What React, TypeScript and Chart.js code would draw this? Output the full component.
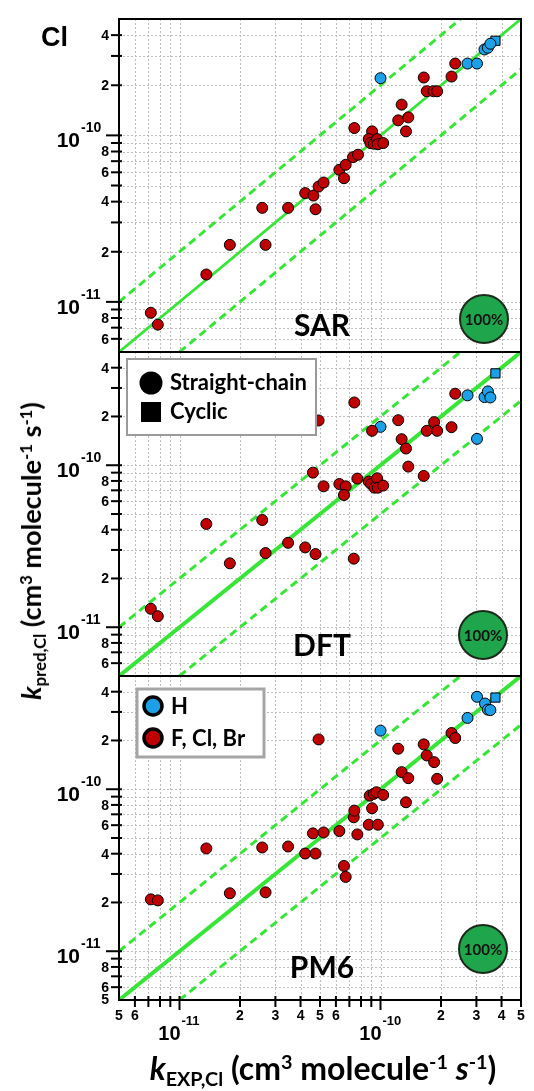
import React, { useEffect, useRef } from 'react';
import Chart from 'chart.js/auto';

// ---------------- data ----------------
const AXIS_MIN = 5e-12;
const AXIS_MAX = 5e-10;

// SAR panel
const SAR_RED_X = [7.2e-12, 7.8e-12, 1.36e-11, 1.78e-11, 2.68e-11, 2.58e-11, 3.47e-11, 4.22e-11, 4.64e-11, 4.75e-11, 4.92e-11, 5.21e-11, 6.24e-11, 6.71e-11, 6.58e-11, 7.30e-11, 7.73e-11, 7.41e-11, 9.08e-11, 8.74e-11, 8.91e-11, 9.26e-11, 9.62e-11, 9.70e-11, 1.031e-10, 1.225e-10, 1.274e-10, 1.375e-10, 1.339e-10, 1.641e-10, 1.698e-10, 1.834e-10, 1.913e-10, 2.256e-10, 2.354e-10];
const SAR_RED_Y = [8.6e-12, 7.3e-12, 1.46e-11, 2.2e-11, 2.2e-11, 3.67e-11, 3.67e-11, 4.5e-11, 4.35e-11, 3.6e-11, 4.93e-11, 5.21e-11, 6.21e-11, 6.66e-11, 5.53e-11, 7.40e-11, 7.65e-11, 1.107e-10, 1.057e-10, 9.5e-11, 8.99e-11, 8.91e-11, 9.5e-11, 8.85e-11, 8.99e-11, 1.231e-10, 1.53e-10, 1.283e-10, 1.057e-10, 2.226e-10, 1.841e-10, 1.841e-10, 1.841e-10, 2.256e-10, 2.70e-10];
const SAR_BLUE_X = [1.0e-10, 2.71e-10, 3.02e-10, 3.29e-10, 3.42e-10, 3.52e-10];
const SAR_BLUE_Y = [2.205e-10, 2.70e-10, 2.70e-10, 3.28e-10, 3.36e-10, 3.55e-10];
const SAR_CYCLIC_X = [3.73e-10];
const SAR_CYCLIC_Y = [3.70e-10];

// DFT panel
const DFT_RED_X = [7.2e-12, 7.8e-12, 1.36e-11, 1.78e-11, 2.58e-11, 2.68e-11, 3.47e-11, 4.22e-11, 4.75e-11, 4.61e-11, 4.92e-11, 5.21e-11, 6.24e-11, 6.71e-11, 6.58e-11, 7.41e-11, 7.36e-11, 7.67e-11, 9.08e-11, 8.74e-11, 8.98e-11, 9.33e-11, 9.62e-11, 9.70e-11, 1.031e-10, 1.225e-10, 1.274e-10, 1.339e-10, 1.375e-10, 1.641e-10, 1.698e-10, 1.848e-10, 1.913e-10, 2.256e-10, 2.354e-10];
const DFT_RED_Y = [1.30e-11, 1.17e-11, 4.34e-11, 2.48e-11, 4.59e-11, 2.87e-11, 3.32e-11, 3.11e-11, 2.83e-11, 9.0e-11, 1.889e-10, 7.41e-11, 7.66e-11, 7.41e-11, 6.55e-11, 2.44e-10, 2.65e-11, 8.27e-11, 1.631e-10, 7.93e-11, 7.66e-11, 7.27e-11, 8.31e-11, 7.27e-11, 7.49e-11, 1.897e-10, 1.448e-10, 1.268e-10, 9.81e-11, 8.59e-11, 1.631e-10, 1.845e-10, 1.631e-10, 1.718e-10, 2.763e-10];
const DFT_BLUE_X = [1.0e-10, 2.71e-10, 3.02e-10, 3.29e-10, 3.42e-10, 3.52e-10];
const DFT_BLUE_Y = [1.726e-10, 2.70e-10, 1.455e-10, 2.634e-10, 2.855e-10, 2.62e-10];
const DFT_CYCLIC_X = [3.73e-10];
const DFT_CYCLIC_Y = [3.69e-10];

// PM6 panel
const PM6_RED_X = [7.2e-12, 7.8e-12, 1.36e-11, 1.78e-11, 2.58e-11, 2.68e-11, 3.47e-11, 4.22e-11, 4.75e-11, 4.61e-11, 4.92e-11, 5.21e-11, 6.24e-11, 6.58e-11, 6.71e-11, 7.36e-11, 7.41e-11, 7.67e-11, 9.08e-11, 8.84e-11, 8.74e-11, 9.26e-11, 9.55e-11, 9.70e-11, 1.031e-10, 1.225e-10, 1.274e-10, 1.375e-10, 1.339e-10, 1.641e-10, 1.698e-10, 1.848e-10, 1.913e-10, 2.256e-10, 2.354e-10];
const PM6_RED_Y = [2.09e-11, 2.06e-11, 4.31e-11, 2.28e-11, 4.37e-11, 2.31e-11, 4.43e-11, 4.01e-11, 4.01e-11, 5.34e-11, 2.03e-10, 5.41e-11, 5.52e-11, 3.36e-11, 2.875e-11, 6.71e-11, 7.38e-11, 5.26e-11, 7.63e-11, 9.13e-11, 6.04e-11, 9.36e-11, 9.58e-11, 6.04e-11, 9.22e-11, 1.778e-10, 1.275e-10, 1.17e-10, 8.31e-11, 1.892e-10, 1.617e-10, 1.47e-10, 1.159e-10, 2.223e-10, 2.071e-10];
const PM6_BLUE_X = [1.0e-10, 2.71e-10, 3.02e-10, 3.31e-10, 3.42e-10, 3.52e-10];
const PM6_BLUE_Y = [2.30e-10, 2.755e-10, 3.72e-10, 3.38e-10, 3.10e-10, 3.08e-10];
const PM6_CYCLIC_X = [3.73e-10];
const PM6_CYCLIC_Y = [3.68e-10];

// reference lines: 1:1, factor-of-2 bands
const ONE_TO_ONE_X = [5e-12, 5e-10];
const ONE_TO_ONE_Y = [5e-12, 5e-10];
const UPPER_X = [5e-12, 2.5e-10];
const UPPER_Y = [1e-11, 5e-10];
const LOWER_X = [1e-11, 5e-10];
const LOWER_Y = [5e-12, 2.5e-10];

// ticks
const GRID_VALUES = [6e-12, 7e-12, 8e-12, 9e-12, 1e-11, 2e-11, 3e-11, 4e-11, 5e-11, 6e-11, 7e-11, 8e-11, 9e-11, 1e-10, 2e-10, 3e-10, 4e-10];
const MAJOR_VALUES = [1e-11, 1e-10];
const MAJOR_EXPONENTS = ['-11', '-10'];
const Y_LABEL_VALUES = [4e-10, 2e-10, 8e-11, 6e-11, 4e-11, 2e-11, 8e-12, 6e-12];
const Y_LABEL_TEXTS = ['4', '2', '8', '6', '4', '2', '8', '6'];
const X_LABEL_VALUES = [5e-12, 6e-12, 2e-11, 3e-11, 4e-11, 5e-11, 6e-11, 2e-10, 3e-10, 4e-10, 5e-10];
const X_LABEL_TEXTS = ['5', '6', '2', '3', '4', '5', '6', '2', '3', '4', '5'];

const PANEL_NAMES = ['SAR', 'DFT', 'PM6'];
const BADGE_TEXT = '100%';

// ---------------- styles ----------------
const RED = '#C00000';
const BLUE = '#1CA0E8';
const GREEN = '#36E536';
const BADGE_GREEN = '#1FA64C';
const ARIAL = '"Liberation Sans", Arial, sans-serif';
const CAL = 'Lato, "Open Sans", sans-serif';

const PANELS = [
  { id: 'ySAR', name: PANEL_NAMES[0], redX: SAR_RED_X, redY: SAR_RED_Y, blueX: SAR_BLUE_X, blueY: SAR_BLUE_Y, cycX: SAR_CYCLIC_X, cycY: SAR_CYCLIC_Y, stackWeight: 333, solidWidth: 2.8, labelY: 326, badge: [484, 319] },
  { id: 'yDFT', name: PANEL_NAMES[1], redX: DFT_RED_X, redY: DFT_RED_Y, blueX: DFT_BLUE_X, blueY: DFT_BLUE_Y, cycX: DFT_CYCLIC_X, cycY: DFT_CYCLIC_Y, stackWeight: 324, solidWidth: 4, labelY: 646, badge: [483, 635] },
  { id: 'yPM6', name: PANEL_NAMES[2], redX: PM6_RED_X, redY: PM6_RED_Y, blueX: PM6_BLUE_X, blueY: PM6_BLUE_Y, cycX: PM6_CYCLIC_X, cycY: PM6_CYCLIC_Y, stackWeight: 324, solidWidth: 4, labelY: 968, badge: [483, 949] },
];

const pts = (xs: number[], ys: number[]) => xs.map((x, i) => ({ x, y: ys[i] }));

function line(ctx: CanvasRenderingContext2D, x1: number, y1: number, x2: number, y2: number) {
  ctx.beginPath();
  ctx.moveTo(x1, y1);
  ctx.lineTo(x2, y2);
  ctx.stroke();
}

const overlay = {
  id: 'overlay',
  beforeDatasetsDraw(chart: any) {
    const { ctx, chartArea, scales } = chart;
    const xs = scales.x;
    ctx.save();
    ctx.strokeStyle = '#bdbdbd';
    ctx.lineWidth = 1;
    ctx.setLineDash([2, 2]);
    for (const p of PANELS) {
      const ys = scales[p.id];
      const top = ys.getPixelForValue(AXIS_MAX);
      const bottom = ys.getPixelForValue(AXIS_MIN);
      for (const v of GRID_VALUES) {
        const x = Math.round(xs.getPixelForValue(v)) + 0.5;
        line(ctx, x, top, x, bottom);
        const y = Math.round(ys.getPixelForValue(v)) + 0.5;
        line(ctx, chartArea.left, y, chartArea.right, y);
      }
    }
    ctx.restore();
  },
  afterDatasetsDraw(chart: any) {
    const { ctx, chartArea, scales } = chart;
    const xs = scales.x;
    const left = chartArea.left;
    const right = chartArea.right;
    ctx.save();
    ctx.setLineDash([]);
    ctx.fillStyle = '#000';
    ctx.strokeStyle = '#000';

    PANELS.forEach((p, i) => {
      const ys = scales[p.id];
      const top = ys.getPixelForValue(AXIS_MAX);
      const bottom = ys.getPixelForValue(AXIS_MIN);

      // y tick marks
      ctx.lineWidth = 2;
      for (const v of GRID_VALUES) {
        const y = ys.getPixelForValue(v);
        const major = MAJOR_VALUES.includes(v);
        line(ctx, left - (major ? 13 : 8), y, left + 3, y);
      }
      // minor labels
      ctx.font = `bold 14px ${ARIAL}`;
      ctx.textAlign = 'right';
      ctx.textBaseline = 'middle';
      Y_LABEL_VALUES.forEach((v, k) => ctx.fillText(Y_LABEL_TEXTS[k], left - 10, ys.getPixelForValue(v) + 1));
      if (i === PANELS.length - 1) ctx.fillText(X_LABEL_TEXTS[0], left - 10, bottom);
      // major labels
      MAJOR_VALUES.forEach((v, k) => {
        const y = ys.getPixelForValue(v);
        ctx.textBaseline = 'alphabetic';
        ctx.textAlign = 'right';
        ctx.font = `bold 21px ${ARIAL}`;
        ctx.fillText('10', 80, y + 12);
        ctx.textAlign = 'left';
        ctx.font = `bold 14px ${ARIAL}`;
        ctx.fillText(MAJOR_EXPONENTS[k], 81, y - 3);
      });

      // panel frame
      ctx.lineWidth = 2;
      ctx.strokeRect(left, top, right - left, bottom - top);

      // panel name
      ctx.font = `bold 30px ${CAL}`;
      ctx.textAlign = 'center';
      ctx.textBaseline = 'middle';
      ctx.fillText(p.name, 322, p.labelY);

      // badge
      const [bx, by] = p.badge;
      ctx.beginPath();
      ctx.arc(bx, by, 24, 0, Math.PI * 2);
      ctx.fillStyle = BADGE_GREEN;
      ctx.fill();
      ctx.lineWidth = 2;
      ctx.strokeStyle = '#1b2a1b';
      ctx.stroke();
      ctx.fillStyle = '#111';
      ctx.font = `bold 15px ${CAL}`;
      ctx.fillText(BADGE_TEXT, bx, by + 1);
      ctx.fillStyle = '#000';
      ctx.strokeStyle = '#000';
    });

    // x axis ticks + labels
    const lastScale = scales[PANELS[PANELS.length - 1].id];
    const axisY = lastScale.getPixelForValue(AXIS_MIN);
    ctx.lineWidth = 2;
    for (const v of [...GRID_VALUES, AXIS_MAX]) {
      const x = xs.getPixelForValue(v);
      const major = MAJOR_VALUES.includes(v);
      line(ctx, x, axisY - 4, x, axisY + (major ? 10 : 7));
    }
    ctx.font = `bold 14px ${ARIAL}`;
    ctx.textAlign = 'center';
    ctx.textBaseline = 'alphabetic';
    X_LABEL_VALUES.forEach((v, k) => ctx.fillText(X_LABEL_TEXTS[k], xs.getPixelForValue(v), axisY + 20));
    MAJOR_VALUES.forEach((v, k) => {
      const x = xs.getPixelForValue(v);
      ctx.textAlign = 'right';
      ctx.font = `bold 20px ${ARIAL}`;
      ctx.fillText('10', x + 1, axisY + 40);
      ctx.textAlign = 'left';
      ctx.font = `bold 13px ${ARIAL}`;
      ctx.fillText(MAJOR_EXPONENTS[k], x + 2, axisY + 25);
    });

    // "Cl" label
    ctx.font = `bold 27px ${ARIAL}`;
    ctx.textAlign = 'left';
    ctx.fillText('Cl', 41, 46);

    // legend 1 (shape)
    ctx.lineWidth = 2;
    ctx.strokeStyle = '#9a9a9a';
    ctx.fillStyle = '#fff';
    ctx.fillRect(127, 359, 189, 76);
    ctx.strokeRect(127, 359, 189, 76);
    ctx.fillStyle = '#000';
    ctx.beginPath();
    ctx.arc(151, 383, 11.5, 0, Math.PI * 2);
    ctx.fill();
    ctx.fillRect(141, 402, 20, 20);
    ctx.font = `bold 22px ${CAL}`;
    ctx.textBaseline = 'middle';
    ctx.fillText('Straight-chain', 170, 383);
    ctx.fillText('Cyclic', 170, 412);

    // legend 2 (substituent)
    ctx.lineWidth = 3;
    ctx.strokeStyle = '#a5a5a5';
    ctx.fillStyle = '#fff';
    ctx.fillRect(137, 689, 127, 68);
    ctx.strokeRect(137, 689, 127, 68);
    const sw: [string, number, string][] = [[BLUE, 706, 'H'], [RED, 738, 'F, Cl, Br']];
    for (const [col, cy, txt] of sw) {
      ctx.beginPath();
      ctx.arc(153, cy, 9, 0, Math.PI * 2);
      ctx.fillStyle = col;
      ctx.fill();
      ctx.lineWidth = 3.5;
      ctx.strokeStyle = '#000';
      ctx.stroke();
      ctx.fillStyle = '#000';
      ctx.font = `bold 22px ${CAL}`;
      ctx.fillText(txt, 171, cy + 1);
    }
    ctx.restore();
  },
};

export default function App() {
  const ref = useRef<HTMLCanvasElement>(null);
  useEffect(() => {
    const canvas = ref.current;
    if (!canvas) return;
    const datasets: any[] = [];
    PANELS.forEach((p) => {
      datasets.push({ data: pts(p.redX, p.redY), yAxisID: p.id, xAxisID: 'x', backgroundColor: RED, borderColor: '#000', borderWidth: 1, pointRadius: 5.5, pointStyle: 'circle', order: 0 });
      datasets.push({ data: pts(p.blueX, p.blueY), yAxisID: p.id, xAxisID: 'x', backgroundColor: BLUE, borderColor: '#000', borderWidth: 1, pointRadius: 5.5, pointStyle: 'circle', order: 0 });
      datasets.push({ data: pts(p.cycX, p.cycY), yAxisID: p.id, xAxisID: 'x', backgroundColor: BLUE, borderColor: '#000', borderWidth: 1, pointRadius: 6.5, pointStyle: 'rect', order: 0 });
      datasets.push({ data: pts(ONE_TO_ONE_X, ONE_TO_ONE_Y), yAxisID: p.id, xAxisID: 'x', showLine: true, borderColor: GREEN, borderWidth: p.solidWidth, pointRadius: 0, order: 1 });
      datasets.push({ data: pts(UPPER_X, UPPER_Y), yAxisID: p.id, xAxisID: 'x', showLine: true, borderColor: GREEN, borderWidth: 3, borderDash: [8, 5], pointRadius: 0, order: 1 });
      datasets.push({ data: pts(LOWER_X, LOWER_Y), yAxisID: p.id, xAxisID: 'x', showLine: true, borderColor: GREEN, borderWidth: 3, borderDash: [8, 5], pointRadius: 0, order: 1 });
    });
    const scales: any = {
      x: { type: 'logarithmic', min: AXIS_MIN, max: AXIS_MAX, display: false },
    };
    PANELS.forEach((p, i) => {
      scales[p.id] = { type: 'logarithmic', min: AXIS_MIN, max: AXIS_MAX, display: false, position: 'left', stack: 'panels', stackWeight: p.stackWeight, weight: PANELS.length - i };
    });
    const chart = new Chart(canvas, {
      type: 'scatter',
      data: { datasets },
      options: {
        responsive: false,
        animation: false,
        events: [],
        layout: { padding: { left: 119, right: 13, top: 19, bottom: 91 } },
        scales,
        plugins: { legend: { display: false }, tooltip: { enabled: false } },
      },
      plugins: [overlay],
    } as any);
    return () => chart.destroy();
  }, []);

  const sub: React.CSSProperties = { fontSize: '0.62em', verticalAlign: '-0.32em', lineHeight: 0 };
  const sup: React.CSSProperties = { fontSize: '0.62em', verticalAlign: '0.55em', lineHeight: 0 };

  return (
    <div style={{ position: 'fixed', left: 0, top: 0, width: 534, height: 1091, background: '#fff', overflow: 'hidden' }}>
      <canvas ref={ref} width={534} height={1091} style={{ position: 'absolute', left: 0, top: 0, width: 534, height: 1091 }} />
      <div
        style={{
          position: 'absolute', left: 31, top: 551, transform: 'translate(-50%, -50%) rotate(-90deg)',
          whiteSpace: 'nowrap', font: `bold 27px ${CAL}`, lineHeight: '32px', color: '#000',
        }}
      >
        <i>k</i><span style={sub}>pred,Cl</span> (cm<span style={sup}>3</span> molecule<span style={sup}>-1</span> s<span style={sup}>-1</span>)
      </div>
      <div
        style={{
          position: 'absolute', left: 323, top: 1068, transform: 'translate(-50%, -50%)',
          whiteSpace: 'nowrap', font: `bold 32px ${CAL}`, lineHeight: '36px', color: '#000',
        }}
      >
        <i>k</i><span style={sub}>EXP,Cl</span> (cm<span style={sup}>3</span> molecule<span style={sup}>-1</span> <i>s</i><span style={sup}>-1</span>)
      </div>
    </div>
  );
}
